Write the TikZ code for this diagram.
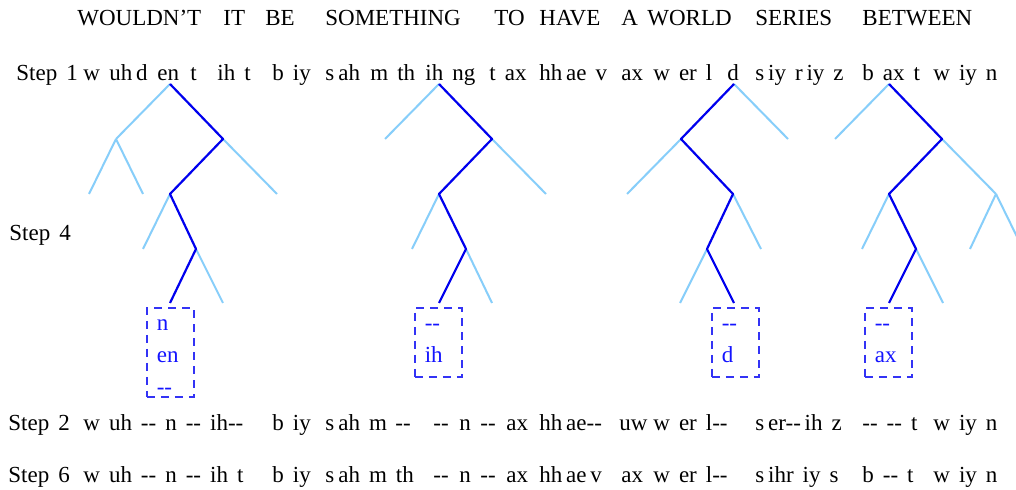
\documentclass[tikz,border=0pt]{standalone}
\usepackage{fontspec}
\setmainfont{Liberation Serif}[Ligatures=TeXOff]
\usepackage{xcolor}
\usepackage{tikz}
\usetikzlibrary{calc,positioning}
\definecolor{PathBlue}{HTML}{0000EE}
\definecolor{LeafBlue}{HTML}{87CEFA}
\definecolor{BoxBlue}{HTML}{3333F5}
\definecolor{InkBlue}{HTML}{1414FF}
\newcommand\phonefont{\fontsize{11.5}{16}\selectfont\spaceskip=4.5pt plus 1pt\relax}

\tikzset{
    word/.style={anchor=base west, inner sep=0pt, font=\phonefont},
    branch/.style={LeafBlue, line width=1pt},
    bestpath/.style={PathBlue, line width=1.1pt, line join=round},
    gapbox/.style={draw=BoxBlue, dash pattern=on 4pt off 3pt, line width=0.8pt,
        text=InkBlue, font=\phonefont, align=left, text width=13.5pt,
        inner xsep=5pt, inner ysep=0pt, text height=11.25pt, anchor=north west}
}

\begin{document}
\begin{tikzpicture}[x=0.5pt, y=-0.5pt]
        \useasboundingbox (0,0) rectangle (1016,490);
        \fill[white] (0,0) rectangle (1016,490);
        \clip (0,0) rectangle (1016,490);

        \foreach \x/\w [count=\i] in {77/WOULDN’T, 223/IT, 265/BE, 325/SOMETHING, 494/TO,
                539/HAVE, 621/A, 647/WORLD, 755/SERIES, 862/BETWEEN} {
            \node[word] (title-\i) at (\x,26) {\w};
        }

        \foreach \x/\w [count=\i] in {16/Step 1, 83/w, 109/uh\,d, 157/en, 190/t, 217/ih t, 272/b iy,
                325/s\kern2pt ah, 370/m th, 425/ih ng, 489/t ax, 539/hh\,ae v, 621/ax, 653/w er l, 727/d,
                755/s\,iy r\,iy z, 862/b ax t, 933/w iy n} {
            \node[word] (s1-\i) at (\x,81) {\w};
        }

        \node[word] (s4) at (9,241) {Step 4};

        \foreach \x/\w [count=\i] in {8/Step 2, 83/w uh -- n -- ih--, 272/b iy,
                325/s\kern2pt ah m, 395/--, 433/--, 459/n, 480/--, 506/ax, 539/hh\,ae--, 619/uw, 653/w er l--,
                755/s\,er--\,ih z, 862/-- -- t, 933/w iy n} {
            \node[word] (s2-\i) at (\x,431) {\w};
        }

        \foreach \x/\w [count=\i] in {8/Step 6, 83/w uh -- n -- ih t, 272/b iy,
                325/s\kern2pt ah m th, 433/--, 459/n, 480/--, 506/ax, 539/hh\,ae\,v, 621/ax, 653/w er l--,
                755/s\,ihr iy s, 862/b -- t, 933/w iy n} {
            \node[word] (s6-\i) at (\x,483) {\w};
        }

        \coordinate (t1) at (170,84);
        \coordinate (t1a) at (116,139);
        \coordinate (t1b) at (223,139);
        \coordinate (t1aa) at (89,194);
        \coordinate (t1ab) at (143,194);
        \coordinate (t1ba) at (170,194);
        \coordinate (t1bb) at (277,194);
        \coordinate (t1baa) at (143,249);
        \coordinate (t1bab) at (196,249);
        \coordinate (t1baba) at (170,303);
        \coordinate (t1babb) at (223,303);

        \coordinate (t2) at (439,84);
        \coordinate (t2a) at (385,139);
        \coordinate (t2b) at (492,139);
        \coordinate (t2ba) at (439,194);
        \coordinate (t2bb) at (546,194);
        \coordinate (t2baa) at (412,249);
        \coordinate (t2bab) at (466,249);
        \coordinate (t2baba) at (439,303);
        \coordinate (t2babb) at (492,303);

        \coordinate (t3) at (734,84);
        \coordinate (t3a) at (681,139);
        \coordinate (t3b) at (788,139);
        \coordinate (t3aa) at (627,194);
        \coordinate (t3ab) at (733,194);
        \coordinate (t3aba) at (707,249);
        \coordinate (t3abb) at (761,249);
        \coordinate (t3abaa) at (680,303);
        \coordinate (t3abab) at (734,303);

        \coordinate (t4) at (889,84);
        \coordinate (t4a) at (835,139);
        \coordinate (t4b) at (942,139);
        \coordinate (t4ba) at (889,194);
        \coordinate (t4bb) at (996,194);
        \coordinate (t4baa) at (862,249);
        \coordinate (t4bab) at (916,249);
        \coordinate (t4bba) at (970,249);
        \coordinate (t4bbb) at (1023,249);
        \coordinate (t4baba) at (889,303);
        \coordinate (t4babb) at (943,303);

        \foreach \p/\q in {t1/t1a, t1a/t1aa, t1a/t1ab, t1b/t1bb, t1ba/t1baa, t1bab/t1babb,
                t2/t2a, t2b/t2bb, t2ba/t2baa, t2bab/t2babb,
                t3/t3b, t3a/t3aa, t3ab/t3abb, t3aba/t3abaa,
                t4/t4a, t4b/t4bb, t4bb/t4bba, t4bb/t4bbb, t4ba/t4baa, t4bab/t4babb} {
            \draw[branch] (\p) -- (\q);
        }

        \draw[bestpath] (t1) -- (t1b) -- (t1ba) -- (t1bab) -- (t1baba);
        \draw[bestpath] (t2) -- (t2b) -- (t2ba) -- (t2bab) -- (t2baba);
        \draw[bestpath] (t3) -- (t3a) -- (t3ab) -- (t3aba) -- (t3abab);
        \draw[bestpath] (t4) -- (t4b) -- (t4ba) -- (t4bab) -- (t4baba);

        \node[gapbox, text depth=33.25pt] (box1) at (146,307) {n\\en\\--};
        \node[gapbox, text depth=23.25pt] (box2) at (414,307) {--\\ih};
        \node[gapbox, text depth=23.25pt] (box3) at (711,307) {--\\d};
        \node[gapbox, text depth=23.25pt] (box4) at (864,307) {--\\ax};
    \end{tikzpicture}
\end{document}
